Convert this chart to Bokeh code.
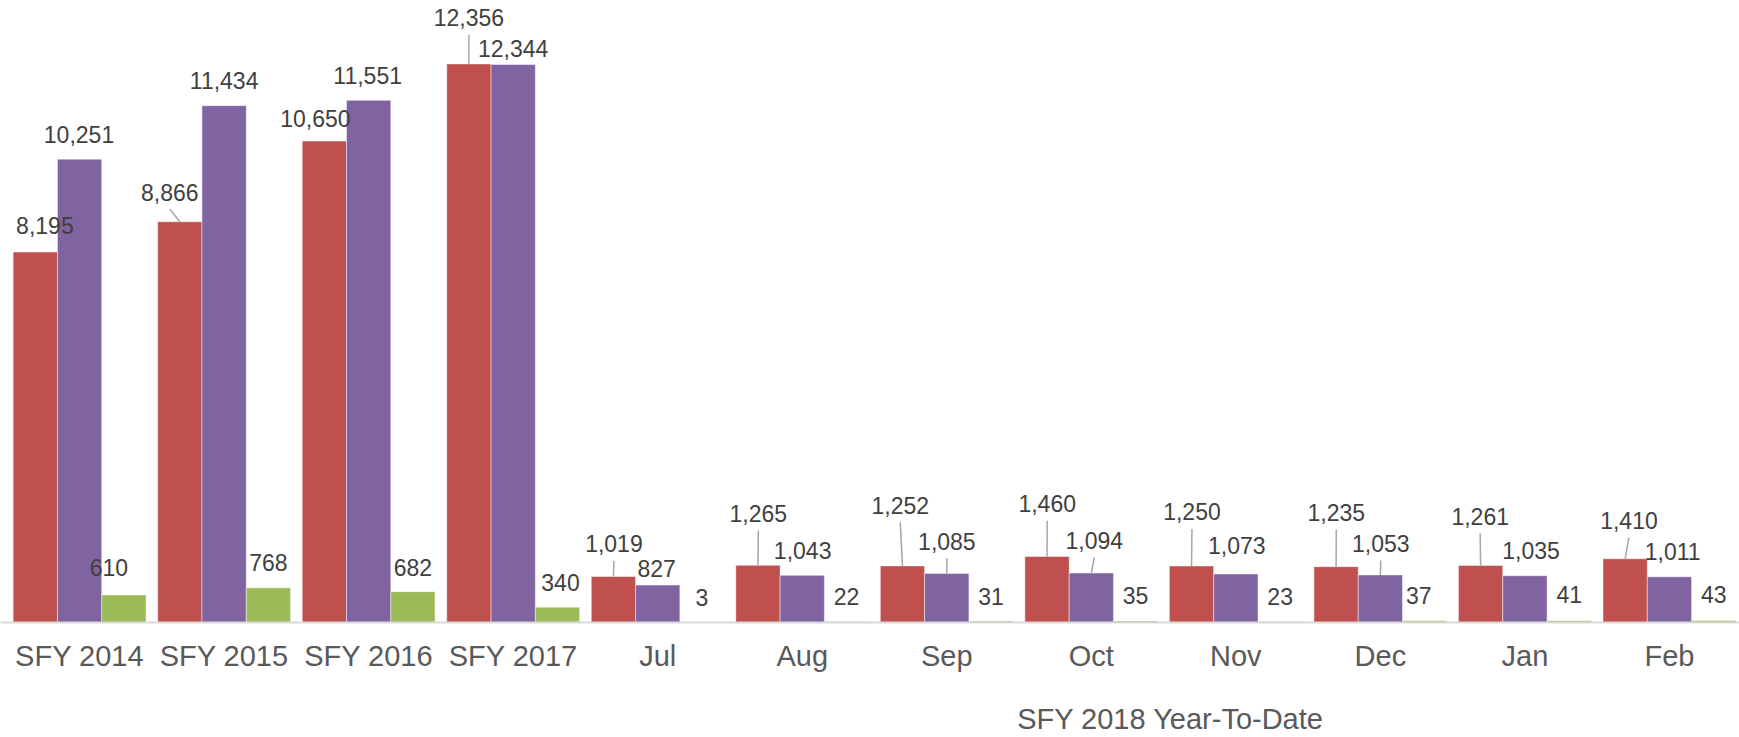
from bokeh.plotting import figure
from bokeh.models import Range1d, FixedTicker, LinearAxis, ColumnDataSource
from bokeh.embed import file_html
from bokeh.resources import INLINE
from bokeh.core.properties import value

# ---------------- data ----------------
categories = ["SFY 2014", "SFY 2015", "SFY 2016", "SFY 2017",
              "Jul", "Aug", "Sep", "Oct", "Nov", "Dec", "Jan", "Feb"]
series_red = [8195, 8866, 10650, 12356, 1019, 1265, 1252, 1460, 1250, 1235, 1261, 1410]
series_purple = [10251, 11434, 11551, 12344, 827, 1043, 1085, 1094, 1073, 1053, 1035, 1011]
series_green = [610, 768, 682, 340, 3, 22, 31, 35, 23, 37, 41, 43]
group_label = "SFY 2018 Year-To-Date"
group_members = ["Jul", "Aug", "Sep", "Oct", "Nov", "Dec", "Jan", "Feb"]

# ---------------- label placement (screen px, relative to bar top centre) ----------------
red_dx = [9.6, -10, -9, 0, 0.5, 0.4, -2.2, 0.2, 0.4, 0.2, -0.4, 3.8]
red_dy = [-26.6, -29.7, -22.7, -46.3, -32.7, -51.7, -60.6, -52.7, -54, -54, -49.3, -38.3]
purple_dx = [-0.6, 0, -1, 0, -1, 0.4, 0.1, 3, 0.9, 0.4, 6.2, 3.2]
purple_dy = [-24.3, -25.6, -24.4, -16, -16.7, -25, -32.3, -32.6, -28.7, -31.3, -25.3, -25]
green_dx = [-15, 0, 0, 3, 0, 0, 0, 0, 0, -6, 0, 0]
green_dy = [-27.7, -25, -24.4, -25, -25, -25, -25, -25, -25, -25, -26, -26]

# ---------------- layout / style ----------------
FIG_W, FIG_H = 1739, 737
STANDOFF1, STANDOFF2 = 17, 28
LABEL_BOX_H = 35.5          # height Bokeh reserves for a 29px tick label
BOTTOM = 114
FRAME_H = FIG_H - max(BOTTOM, STANDOFF1 + STANDOFF2 + 2 * LABEL_BOX_H)
GROUP_PX = 144.53
X_START = -79.1 / GROUP_PX
X_END = X_START + FIG_W / GROUP_PX
Y_END = FRAME_H / 0.04513
PX_PER_Y = FRAME_H / Y_END
BAR_W = 0.3065
COLORS = ["#C0504D", "#8064A2", "#9BBB59"]
FONT = "Liberation Sans"

p = figure(width=FIG_W, height=FIG_H, output_backend="svg", toolbar_location=None,
           x_range=Range1d(X_START, X_END), y_range=Range1d(0, Y_END),
           y_axis_location=None, min_border_left=0, min_border_right=0,
           min_border_top=0, min_border_bottom=BOTTOM)
p.outline_line_color = None
p.xgrid.visible = False
p.ygrid.visible = False
p.background_fill_color = "white"
p.border_fill_color = "white"

idx = list(range(len(categories)))
series = [(series_red, red_dx, red_dy), (series_purple, purple_dx, purple_dy),
          (series_green, green_dx, green_dy)]
xs_all = [[i + (k - 1) * BAR_W for i in idx] for k in range(3)]

# bars first
for k, (vals, _, _) in enumerate(series):
    p.vbar(x=xs_all[k], top=vals, bottom=0, width=BAR_W, fill_color=COLORS[k],
           line_color="white", line_width=1, line_alpha=0.45)

# leader lines and data labels on top
for k, (vals, dxs, dys) in enumerate(series):
    xs = xs_all[k]
    lx0, ly0, lx1, ly1 = [], [], [], []
    for x, v, dx, dy in zip(xs, vals, dxs, dys):
        if -dy > 29:
            lx0.append(x)
            ly0.append(v)
            lx1.append(x + dx / GROUP_PX)
            ly1.append(v + (-dy - 17) / PX_PER_Y)
    if lx0:
        p.segment(x0=lx0, y0=ly0, x1=lx1, y1=ly1, line_color="#A6A6A6", line_width=1.5)

    src = ColumnDataSource(dict(x=xs, y=vals, t=[f"{v:,}" for v in vals], dx=dxs, dy=dys))
    p.text(x="x", y="y", text="t", x_offset="dx", y_offset="dy", source=src,
           text_align="center", text_baseline="middle",
           text_font=value(FONT), text_font_size="23px", text_color="#404040")

ax = p.xaxis[0]
ax.ticker = FixedTicker(ticks=idx)
ax.major_label_overrides = {i: c for i, c in zip(idx, categories)}
ax.major_tick_line_color = None
ax.minor_tick_line_color = None
ax.major_tick_out = 0
ax.major_tick_in = 0
ax.axis_line_color = "#D9D9D9"
ax.axis_line_width = 2
ax.major_label_standoff = STANDOFF1
ax.major_label_text_font = FONT
ax.major_label_text_font_size = "29px"
ax.major_label_text_color = "#595959"

# group label axis under the monthly categories
gpos = [categories.index(c) for c in group_members]
gx = sum(gpos) / len(gpos) + 7 / GROUP_PX
ax2 = LinearAxis(ticker=FixedTicker(ticks=[gx]), major_label_overrides={gx: group_label})
ax2.axis_line_color = None
ax2.major_tick_line_color = None
ax2.minor_tick_line_color = None
ax2.major_tick_out = 0
ax2.major_tick_in = 0
ax2.major_label_standoff = STANDOFF2
ax2.major_label_text_font = FONT
ax2.major_label_text_font_size = "29px"
ax2.major_label_text_color = "#595959"
p.add_layout(ax2, "below")

open("out.html", "w").write(file_html(p, INLINE))
